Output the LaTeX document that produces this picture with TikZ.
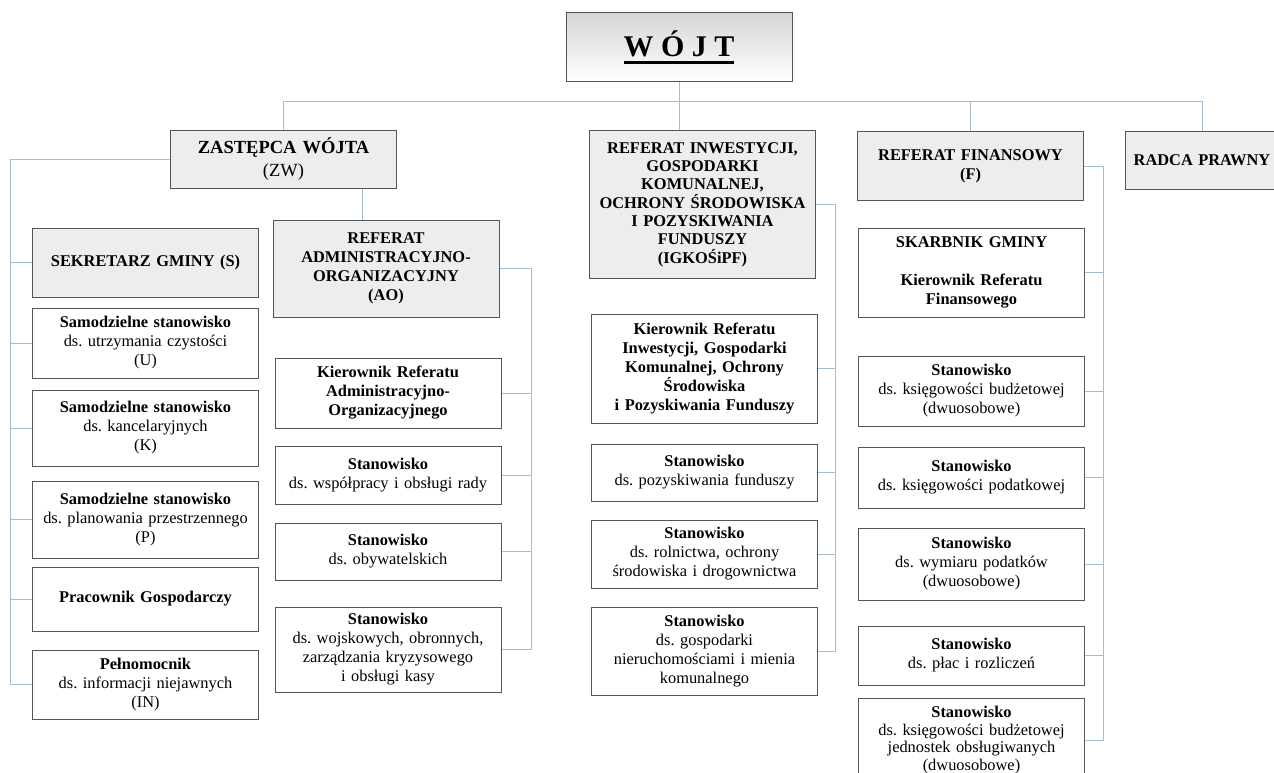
\documentclass[tikz,border=0pt]{standalone}
\usepackage{fontspec}
\setmainfont{Liberation Serif}
\usetikzlibrary{positioning}
\frenchspacing
\definecolor{linkblue}{HTML}{A3BCCF}
\definecolor{headgray}{HTML}{EDEDED}
\definecolor{boxedge}{HTML}{555555}
\newcommand{\thickul}[1]{\setbox0\hbox{#1}\rlap{\rule[-7pt]{\wd0}{2.5pt}}\box0}
\tikzset{
 post/.style={draw=boxedge, line width=1pt, fill=white, text width=218pt, inner xsep=4pt, inner ysep=3pt, align=center, font=\fontsize{16.4}{19}\selectfont},
 head/.style={post, fill=headgray, font=\fontsize{16.4}{19}\selectfont\bfseries},
 link/.style={draw=linkblue, line width=1pt},
}

\begin{document}
\begin{tikzpicture}[x=1pt, y=-1pt]
 \useasboundingbox (0,0) rectangle (1274,773);
 \node [draw=boxedge, line width=1pt, top color=black!16, bottom color=white, minimum width=226pt, minimum height=69pt, font=\fontsize{30}{36}\selectfont\bfseries] (wojt) at (679,47.5) {\thickul{W Ó J T}};
 \node [head, minimum height=57pt, font=\fontsize{18.5}{23}\selectfont] (zw) at (283.5,159.5) {{\bfseries ZASTĘPCA WÓJTA}\\(ZW)};
 \node [head, minimum height=147pt, font=\fontsize{16.4}{18.3}\selectfont\bfseries] (igk) at (702.5,204.5) {REFERAT INWESTYCJI,\\GOSPODARKI\\KOMUNALNEJ,\\OCHRONY ŚRODOWISKA\\I POZYSKIWANIA\\FUNDUSZY\\(IGKOŚiPF)};
 \node [head, minimum height=68pt] (fin) at (970.5,166) {REFERAT FINANSOWY\\(F)};
 \node [head, minimum height=57pt, text width=146pt] (radca) at (1202,160.5) {RADCA PRAWNY};
 \node [head, minimum height=69pt] (sekr) at (145.5,262.5) {SEKRETARZ GMINY (S)};
 \node [head, minimum height=97pt] (ao) at (386,268.5) {REFERAT\\ADMINISTRACYJNO-\\ORGANIZACYJNY\\(AO)};

 \node [post, below=10pt of sekr, minimum height=70pt] (czyst) {\textbf{Samodzielne stanowisko}\\ds. utrzymania czystości\\(U)};
 \node [post, below=11pt of czyst, minimum height=76pt] (kanc) {\textbf{Samodzielne stanowisko}\\ds. kancelaryjnych\\(K)};
 \node [post, below=14pt of kanc, minimum height=77pt] (plan) {\textbf{Samodzielne stanowisko}\\ds. planowania przestrzennego\\(P)};
 \node [post, below=8pt of plan, minimum height=64pt] (prac) {\textbf{Pracownik Gospodarczy}};
 \node [post, below=18pt of prac, minimum height=69pt] (pelno) {\textbf{Pełnomocnik}\\ds. informacji niejawnych\\(IN)};

 \node [post, below=40pt of ao, xshift=2pt, minimum height=70pt] (kierao) {\textbf{Kierownik Referatu\\Administracyjno-\\Organizacyjnego}};
 \node [post, below=17pt of kierao, minimum height=58pt] (wspol) {\textbf{Stanowisko}\\ds. współpracy i obsługi rady};
 \node [post, below=18pt of wspol, minimum height=57pt] (obyw) {\textbf{Stanowisko}\\ds. obywatelskich};
 \node [post, below=26pt of obyw, minimum height=85pt] (wojsk) {\textbf{Stanowisko}\\ds. wojskowych, obronnych,\\zarządzania kryzysowego\\i obsługi kasy};

 \node [post, below=35pt of igk, xshift=2pt, minimum height=109pt] (kierigk) {\textbf{Kierownik Referatu\\Inwestycji, Gospodarki\\Komunalnej, Ochrony\\Środowiska\\i Pozyskiwania Funduszy}};
 \node [post, below=20pt of kierigk, minimum height=57pt] (pozysk) {\textbf{Stanowisko}\\ds. pozyskiwania funduszy};
 \node [post, below=18pt of pozysk, minimum height=68pt] (roln) {\textbf{Stanowisko}\\ds. rolnictwa, ochrony\\środowiska i drogownictwa};
 \node [post, below=18pt of roln, minimum height=88pt] (nieruch) {\textbf{Stanowisko}\\ds. gospodarki\\nieruchomościami i mienia\\komunalnego};

 \node [post, below=27pt of fin, xshift=1pt, minimum height=89pt] (skarb) {\textbf{SKARBNIK GMINY\\[19pt]Kierownik Referatu\\Finansowego}};
 \node [post, below=38pt of skarb, minimum height=70pt] (budz) {\textbf{Stanowisko}\\ds. księgowości budżetowej\\(dwuosobowe)};
 \node [post, below=20pt of budz, minimum height=61pt] (podat) {\textbf{Stanowisko}\\ds. księgowości podatkowej};
 \node [post, below=19pt of podat, minimum height=72pt] (wymiar) {\textbf{Stanowisko}\\ds. wymiaru podatków\\(dwuosobowe)};
 \node [post, below=25pt of wymiar, minimum height=59pt] (placy) {\textbf{Stanowisko}\\ds. płac i rozliczeń};
 \node [post, below=12pt of placy, minimum height=84pt, font=\fontsize{16.4}{17.5}\selectfont] (jedn) {\textbf{Stanowisko}\\ds. księgowości budżetowej\\jednostek obsługiwanych\\(dwuosobowe)};

 \coordinate (bus) at (679,102);
 \coordinate (ltrunk) at (10,0);
 \coordinate (aotrunk) at (531,0);
 \coordinate (igktrunk) at (835,0);
 \coordinate (fintrunk) at (1103,0);

 \draw [link] (wojt) -- (bus) -| (zw);
 \draw [link] (bus) -| (fin);
 \draw [link] (bus) -| (radca);
 \draw [link] (bus) -- (bus |- igk.north);
 \draw [link] ([xshift=79pt]zw.south) -- ([xshift=79pt]zw.south |- ao.north);

 \draw [link] (zw.west) -| (ltrunk |- pelno.west) -- (pelno.west)
  (ltrunk |- sekr.west) -- (sekr.west)
  (ltrunk |- czyst.west) -- (czyst.west)
  (ltrunk |- kanc.west) -- (kanc.west)
  (ltrunk |- plan.west) -- (plan.west)
  (ltrunk |- prac.west) -- (prac.west);
 \draw [link] (ao.east) -| (aotrunk |- wojsk.east) -- (wojsk.east)
  (aotrunk |- kierao.east) -- (kierao.east)
  (aotrunk |- wspol.east) -- (wspol.east)
  (aotrunk |- obyw.east) -- (obyw.east);
 \draw [link] (igk.east) -| (igktrunk |- nieruch.east) -- (nieruch.east)
  (igktrunk |- kierigk.east) -- (kierigk.east)
  (igktrunk |- pozysk.east) -- (pozysk.east)
  (igktrunk |- roln.east) -- (roln.east);
 \draw [link] (fin.east) -| (fintrunk |- jedn.east) -- (jedn.east)
  (fintrunk |- skarb.east) -- (skarb.east)
  (fintrunk |- budz.east) -- (budz.east)
  (fintrunk |- podat.east) -- (podat.east)
  (fintrunk |- wymiar.east) -- (wymiar.east)
  (fintrunk |- placy.east) -- (placy.east);
\end{tikzpicture}
\end{document}
